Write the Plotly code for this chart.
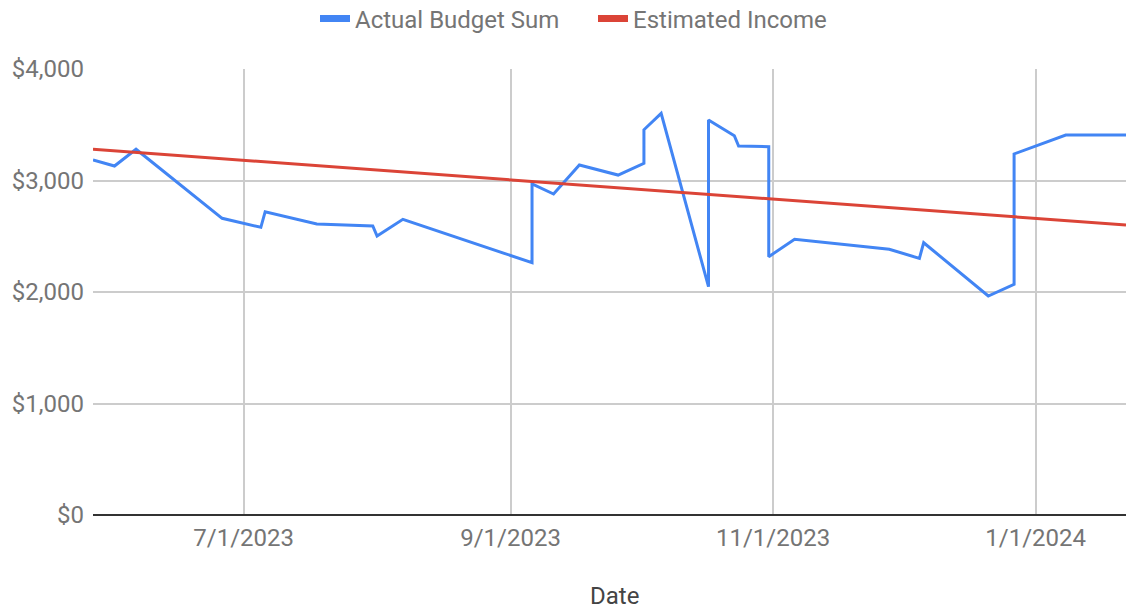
import plotly.graph_objects as go

dates = ["2023-05-27", "2023-06-01", "2023-06-06", "2023-06-26", "2023-07-05", "2023-07-06",
         "2023-07-18", "2023-07-31", "2023-08-01", "2023-08-07", "2023-09-06", "2023-09-06",
         "2023-09-11", "2023-09-17", "2023-09-26", "2023-10-02", "2023-10-02", "2023-10-06",
         "2023-10-17", "2023-10-17", "2023-10-23", "2023-10-24", "2023-10-31", "2023-10-31",
         "2023-11-06", "2023-11-28", "2023-12-05", "2023-12-06", "2023-12-21", "2023-12-27",
         "2023-12-27", "2024-01-08", "2024-01-22"]
actual_budget = [3184, 3130, 3280, 2661, 2580, 2720, 2610, 2592, 2502, 2652, 2263, 2969,
                 2879, 3139, 3049, 3154, 3455, 3602, 2048, 3543, 3402, 3309, 3303, 2317,
                 2473, 2383, 2302, 2442, 1964, 2069, 3238, 3408, 3408]

income_dates = ["2023-05-27", "2024-01-22"]
estimated_income = [3280, 2601]

x_tick_vals = ["2023-07-01", "2023-09-01", "2023-11-01", "2024-01-01"]
x_tick_text = ["7/1/2023", "9/1/2023", "11/1/2023", "1/1/2024"]
y_tick_vals = [0, 1000, 2000, 3000, 4000]
y_tick_text = ["$0", "$1,000", "$2,000", "$3,000", "$4,000"]

BLUE = "#4285F4"
RED = "#DB4437"
GRAY = "#757575"

fig = go.Figure()
fig.add_trace(go.Scatter(x=dates, y=actual_budget, mode="lines", name="Actual Budget Sum",
                         line=dict(color=BLUE, width=3), showlegend=False))
fig.add_trace(go.Scatter(x=income_dates, y=estimated_income, mode="lines", name="Estimated Income",
                         line=dict(color=RED, width=3), showlegend=False))
# legend entries with thicker swatches
fig.add_trace(go.Scatter(x=[None], y=[None], mode="lines", name="Actual Budget Sum",
                         line=dict(color=BLUE, width=7)))
fig.add_trace(go.Scatter(x=[None], y=[None], mode="lines", name="Estimated Income",
                         line=dict(color=RED, width=7)))

W, H = 1126, 609
L, R, T, B = 93, 0, 69, 94
plot_h = H - T - B

fig.update_layout(
    width=W, height=H,
    margin=dict(l=L, r=R, t=T, b=B, pad=0),
    paper_bgcolor="white", plot_bgcolor="white",
    font=dict(family="Roboto", size=24, color=GRAY),
    showlegend=True,
    legend=dict(orientation="h", x=315 / W, xanchor="left", xref="container",
                y=1 - 19 / H, yanchor="middle", yref="container",
                font=dict(size=24, color=GRAY), itemwidth=30,
                entrywidth=233, entrywidthmode="pixels"),
    xaxis=dict(range=["2023-05-27", "2024-01-22"], tickvals=x_tick_vals, ticktext=x_tick_text,
               showgrid=True, gridcolor="#cccccc", gridwidth=1.5, ticks="",
               ticklabelstandoff=6, showline=False, zeroline=False, automargin=False,
               tickfont=dict(size=24, color=GRAY)),
    yaxis=dict(range=[0, 4000], tickvals=y_tick_vals, ticktext=y_tick_text,
               showgrid=True, gridcolor="#cccccc", gridwidth=1.5, ticks="",
               zeroline=True, zerolinecolor="#333333", zerolinewidth=2, automargin=False,
               ticklabelstandoff=8, tickfont=dict(size=24, color=GRAY)),
    annotations=[dict(text="Date", x=0.505, xref="paper", y=-81 / plot_h, yref="paper",
                      yanchor="middle", xanchor="center",
                      showarrow=False, font=dict(size=24, color="#444444"))],
)

fig.write_html("out.html", config={"displayModeBar": False},
               post_script="document.body.style.margin='0';document.body.style.overflow='hidden';")
